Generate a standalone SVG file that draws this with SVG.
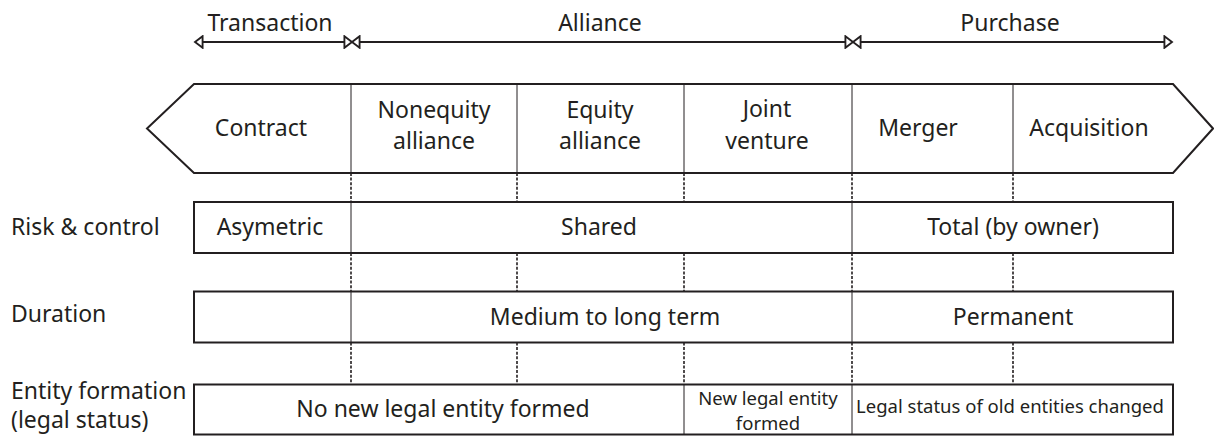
<svg xmlns="http://www.w3.org/2000/svg" width="1214" height="436" viewBox="0 0 1214 436">
  <style>
    text { font-family: "Noto Sans", "Open Sans", sans-serif; fill: #231f20; }
    .lbl { font-size: 23px; text-anchor: middle; }
    .row { font-size: 23px; text-anchor: start; }
    .sm { font-size: 18.5px; text-anchor: middle; }
    .outline { fill: #ffffff; stroke: #231f20; stroke-width: 2; stroke-linejoin: miter; }
    .div { stroke: #231f20; stroke-width: 1; fill: none; }
    .dash { stroke: #231f20; stroke-width: 1.6; stroke-dasharray: 3 1.6; fill: none; }
    .span { stroke: #231f20; stroke-width: 2.2; fill: none; marker-start: url(#tri); marker-end: url(#tri); }
  </style>
  <defs>
    <!-- hollow triangular end cap; tips of adjacent spans meet to form a bow-tie -->
    <marker id="tri" markerUnits="userSpaceOnUse" markerWidth="12" markerHeight="14" refX="7.5" refY="6" orient="auto-start-reverse" viewBox="0 0 10 12">
      <path d="M1,1 L7.5,6 L1,11 Z" fill="#ffffff" stroke="#231f20" stroke-width="1.6" stroke-linejoin="miter"/>
    </marker>
  </defs>

  <rect width="1214" height="436" fill="#ffffff"/>

  <!-- spectrum bands across the top -->
  <g id="bands">
    <g id="band-transaction">
      <text class="lbl" x="270" y="31">Transaction</text>
    </g>
    <g id="band-alliance">
      <text class="lbl" x="600" y="31">Alliance</text>
    </g>
    <g id="band-purchase">
      <text class="lbl" x="1010" y="31">Purchase</text>
    </g>
  </g>

  <g id="connectors">
    <line class="span" x1="195" y1="42" x2="352" y2="42"/>
    <line class="span" x1="352" y1="42" x2="853" y2="42"/>
    <line class="span" x1="853" y1="42" x2="1172" y2="42"/>

    <!-- dashed guides between hexagon and rows -->
    <g class="dash">
      <path d="M351,173 V202 M517,173 V202 M684,173 V202 M852,173 V202 M1013,173 V202"/>
      <path d="M351,253 V291.5 M517,253 V291.5 M684,253 V291.5 M852,253 V291.5 M1013,253 V291.5"/>
      <path d="M351,342.5 V384.5 M517,342.5 V384.5 M684,342.5 V384.5 M852,342.5 V384.5 M1013,342.5 V384.5"/>
    </g>
  </g>

  <!-- double-pointed strip of arrangement types -->
  <g id="strip">
    <path class="outline" d="M194,84 L1173,84 L1213,128.5 L1173,173 L194,173 L147,128.5 Z"/>
    <path class="div" d="M351,84 V173 M517,84 V173 M684,84 V173 M852,84 V173 M1013,84 V173"/>
    <g id="contract"><text class="lbl" x="261" y="136">Contract</text></g>
    <g id="nonequity-alliance"><text class="lbl" x="434" y="118">Nonequity</text><text class="lbl" x="434" y="149">alliance</text></g>
    <g id="equity-alliance"><text class="lbl" x="600" y="118">Equity</text><text class="lbl" x="600" y="149">alliance</text></g>
    <g id="joint-venture"><text class="lbl" x="767" y="117">Joint</text><text class="lbl" x="767" y="149">venture</text></g>
    <g id="merger"><text class="lbl" x="918" y="136">Merger</text></g>
    <g id="acquisition"><text class="lbl" x="1089" y="136">Acquisition</text></g>
  </g>

  <!-- Risk & control -->
  <g id="risk-control">
    <text class="row" x="11" y="235">Risk &amp; control</text>
    <rect class="outline" x="194" y="202" width="979" height="51"/>
    <path class="div" d="M351,202 V253 M852,202 V253"/>
    <text class="lbl" x="270" y="235">Asymetric</text>
    <text class="lbl" x="599" y="235">Shared</text>
    <text class="lbl" x="1013" y="235">Total (by owner)</text>
  </g>

  <!-- Duration -->
  <g id="duration">
    <text class="row" x="11" y="322">Duration</text>
    <rect class="outline" x="194" y="291.5" width="979" height="51"/>
    <path class="div" d="M351,291.5 V342.5 M852,291.5 V342.5"/>
    <text class="lbl" x="605" y="325">Medium to long term</text>
    <text class="lbl" x="1013" y="325">Permanent</text>
  </g>

  <!-- Entity formation -->
  <g id="entity-formation">
    <text class="row" x="11" y="399">Entity formation</text>
    <text class="row" x="11" y="428">(legal status)</text>
    <rect class="outline" x="194" y="384.5" width="979" height="50"/>
    <path class="div" d="M684,384.5 V434.5 M852,384.5 V434.5"/>
    <text class="lbl" x="443" y="417">No new legal entity formed</text>
    <text class="sm" x="768" y="405">New legal entity</text>
    <text class="sm" x="768" y="430">formed</text>
    <text class="sm" x="1010" y="413">Legal status of old entities changed</text>
  </g>
</svg>
